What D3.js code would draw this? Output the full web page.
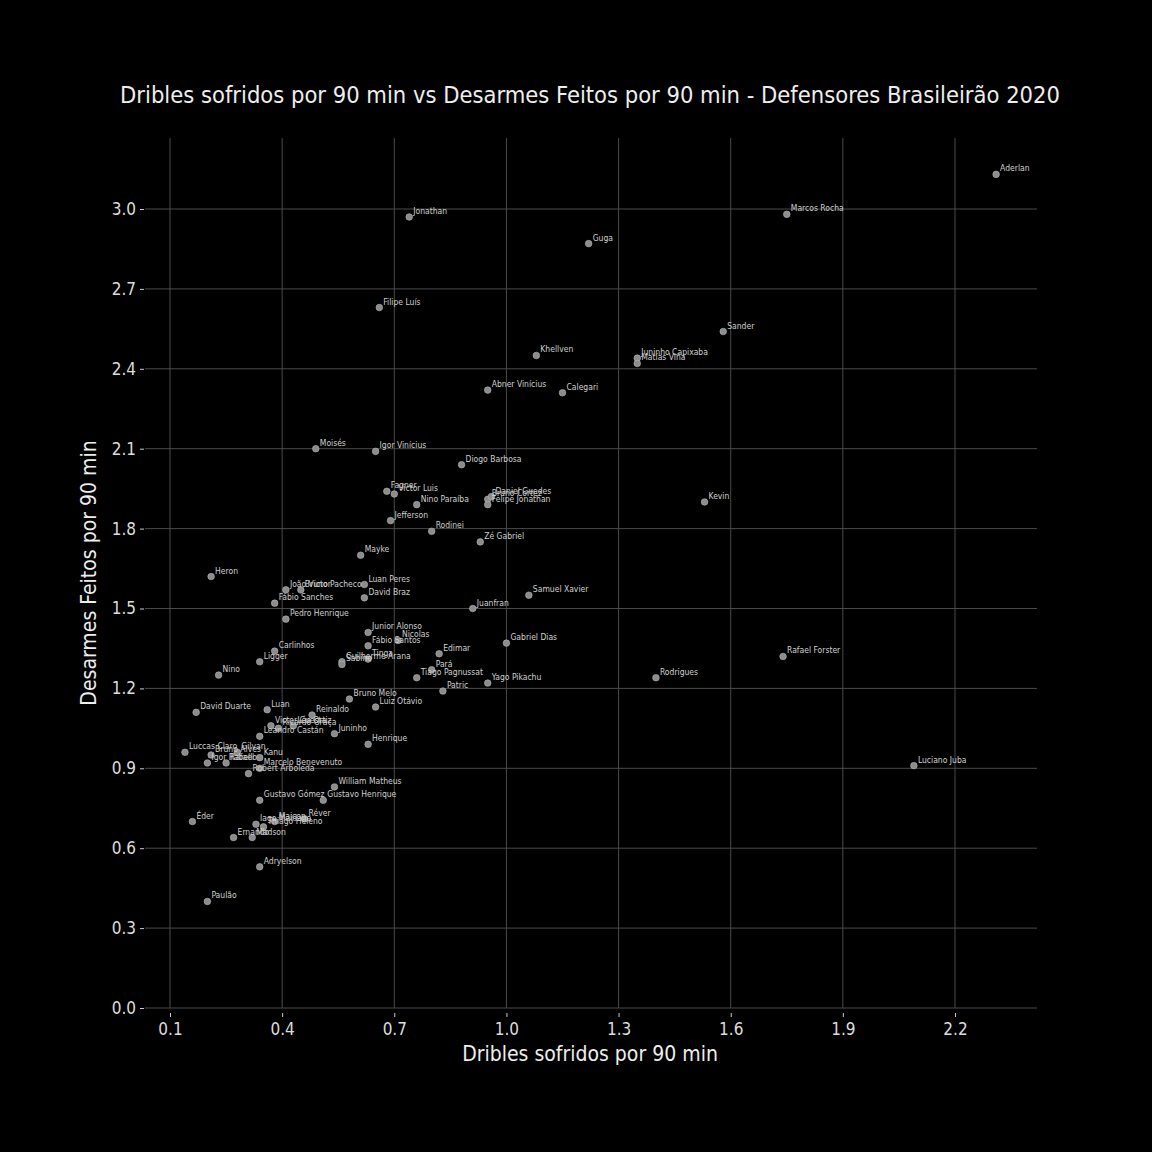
<!DOCTYPE html>
<html>
<head>
<meta charset="utf-8">
<script src="https://cdn.jsdelivr.net/npm/d3@7"></script>
<style>
  body { margin: 0; background: #000; }
  svg text { font-family: "Liberation Sans Narrow", "DejaVu Sans Condensed", "Roboto", sans-serif; }
</style>
</head>
<body>
<svg id="chart"></svg>
<script>
// players, dribbles suffered per 90 and tackles per 90
const players = ["Aderlan","Marcos Rocha","Jonathan","Guga","Filipe Luís","Sander","Khellven","Juninho Capixaba","Matías Viña","Abner Vinícius",
  "Calegari","Moisés","Igor Vinícius","Diogo Barbosa","Fagner","Victor Luis","Nino Paraíba","Kevin","Bruno Cortez","Daniel Guedes",
  "Felipe Jonathan","Jefferson","Rodinei","Zé Gabriel","Mayke","Heron","João Victor","Bruno Pacheco","Luan Peres","David Braz",
  "Fábio Sanches","Samuel Xavier","Juanfran","Pedro Henrique","Junior Alonso","Fábio Santos","Nicolas","Gabriel Dias","Edimar","Rafael Forster",
  "Carlinhos","Ligger","Guilherme Arana","Sabino","Tinga","Nino","Pará","Tiago Pagnussat","Yago Pikachu","Rodrigues",
  "Patric","Bruno Melo","Luiz Otávio","David Duarte","Luan","Reinaldo","Victor Cuesta","Ricardo Graça","Léo Ortiz","Leandro Castán",
  "Juninho","Henrique","Luccas Claro","Bruno Alves","Igor Rabello","Rafael","Gilvan","Kanu","Marcelo Benevenuto","Robert Arboleda",
  "Luciano Juba","William Matheus","Gustavo Gómez","Gustavo Henrique","Éder","Réver","Iago Maidana","Maicon","Thiago Heleno","Ernando",
  "Madson","Adryelson","Paulão"];
const dribbles = [2.31,1.75,0.74,1.22,0.66,1.58,1.08,1.35,1.35,0.95,
  1.15,0.49,0.65,0.88,0.68,0.70,0.76,1.53,0.95,0.96,
  0.95,0.69,0.80,0.93,0.61,0.21,0.41,0.45,0.62,0.62,
  0.38,1.06,0.91,0.41,0.63,0.63,0.71,1.00,0.82,1.74,
  0.38,0.34,0.56,0.56,0.63,0.23,0.80,0.76,0.95,1.40,
  0.83,0.58,0.65,0.17,0.36,0.48,0.37,0.39,0.43,0.34,
  0.54,0.63,0.14,0.21,0.20,0.25,0.28,0.34,0.34,0.31,
  2.09,0.54,0.34,0.51,0.16,0.46,0.33,0.38,0.35,0.27,
  0.32,0.34,0.20];
const tackles = [3.13,2.98,2.97,2.87,2.63,2.54,2.45,2.44,2.42,2.32,
  2.31,2.10,2.09,2.04,1.94,1.93,1.89,1.90,1.91,1.92,
  1.89,1.83,1.79,1.75,1.70,1.62,1.57,1.57,1.59,1.54,
  1.52,1.55,1.50,1.46,1.41,1.36,1.38,1.37,1.33,1.32,
  1.34,1.30,1.30,1.29,1.31,1.25,1.27,1.24,1.22,1.24,
  1.19,1.16,1.13,1.11,1.12,1.10,1.06,1.05,1.06,1.02,
  1.03,0.99,0.96,0.95,0.92,0.92,0.96,0.94,0.90,0.88,
  0.91,0.83,0.78,0.78,0.70,0.71,0.69,0.70,0.68,0.64,
  0.64,0.53,0.40];
const xTicks = [0.1,0.4,0.7,1.0,1.3,1.6,1.9,2.2];
const yTicks = [0.0,0.3,0.6,0.9,1.2,1.5,1.8,2.1,2.4,2.7,3.0];

const data = players.map((p, i) => ({name: p, x: dribbles[i], y: tackles[i]}));

const width = 1152, height = 1152;
const plot = {left: 145, right: 1037, top: 138, bottom: 1008};

const svg = d3.select('#chart')
      .attr('width', width)
      .attr('height', height)
      .style('background', '#000');

const xscale = d3.scaleLinear()
      .domain([0.1, 2.2])
      .range([170, 955]);
const yscale = d3.scaleLinear()
      .domain([0, 3.0])
      .range([1008, 209]);

// grid
svg.append('g').selectAll('line')
      .data(xTicks)
      .join('line')
      .attr('x1', d => xscale(d)).attr('x2', d => xscale(d))
      .attr('y1', plot.top).attr('y2', plot.bottom)
      .attr('stroke', '#4a4a4a').attr('stroke-width', 1);
svg.append('g').selectAll('line')
      .data(yTicks)
      .join('line')
      .attr('x1', plot.left).attr('x2', plot.right)
      .attr('y1', d => yscale(d)).attr('y2', d => yscale(d))
      .attr('stroke', '#4a4a4a').attr('stroke-width', 1);

// axes
const xaxis = d3.axisBottom(xscale).tickValues(xTicks).tickFormat(d3.format('.1f')).tickSize(4).tickPadding(6);
const yaxis = d3.axisLeft(yscale).tickValues(yTicks).tickFormat(d3.format('.1f')).tickSize(4).tickPadding(4);

const gx = svg.append('g').attr('transform', `translate(0, ${plot.bottom + 5})`).call(xaxis);
const gy = svg.append('g').attr('transform', `translate(${plot.left - 1}, 0)`).call(yaxis);
[gx, gy].forEach(g => {
      g.select('.domain').remove();
      g.selectAll('line').attr('stroke', '#ccc');
      g.selectAll('text').attr('fill', '#ddd').style('font-size', '17px');
});

// points
svg.append('g').selectAll('circle')
      .data(data)
      .join('circle')
      .attr('cx', d => xscale(d.x))
      .attr('cy', d => yscale(d.y))
      .attr('r', 3.3)
      .attr('fill', '#8c8c8c')
      .attr('stroke', '#b5b5b5')
      .attr('stroke-width', 0.6);

svg.append('g').selectAll('text')
      .data(data)
      .join('text')
      .attr('x', d => xscale(d.x) + 4)
      .attr('y', d => yscale(d.y) - 3)
      .attr('fill', '#d0d0d0')
      .style('font-size', '8.5px')
      .text(d => d.name);

// labels
svg.append('text')
      .attr('x', 590).attr('y', 103)
      .attr('text-anchor', 'middle')
      .attr('fill', '#eee')
      .style('font-size', '23.5px')
      .text('Dribles sofridos por 90 min vs Desarmes Feitos por 90 min - Defensores Brasileirão 2020');

svg.append('text')
      .attr('x', 590).attr('y', 1061)
      .attr('text-anchor', 'middle')
      .attr('fill', '#eee')
      .style('font-size', '21px')
      .text('Dribles sofridos por 90 min');

svg.append('text')
      .attr('transform', 'translate(96, 573) rotate(-90)')
      .attr('text-anchor', 'middle')
      .attr('fill', '#eee')
      .style('font-size', '21px')
      .text('Desarmes Feitos por 90 min');
</script>
</body>
</html>
